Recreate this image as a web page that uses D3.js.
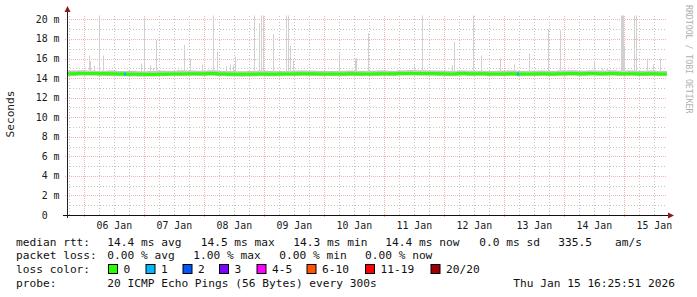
<!DOCTYPE html>
<html>
<head>
<meta charset="utf-8">
<script src="https://cdn.jsdelivr.net/npm/d3@7"></script>
<style>
body { margin: 0; background: #fff; }
text { font-family: "DejaVu Sans Mono", monospace; white-space: pre; }
</style>
</head>
<body>
<svg id="chart"></svg>
<script>
// median rtt (ms), one sample every 4 hours, first sample at 05 Jan 17:00
const medianStartHour = -7;
const medianStepHours = 4;
const medianRtt = [14.45,14.46,14.48,14.47,14.44,14.41,14.40,14.38,14.37,14.40,
                   14.43,14.42,14.45,14.44,14.46,14.43,14.40,14.38,14.39,14.41,
                   14.40,14.42,14.43,14.45,14.44,14.42,14.43,14.41,14.44,14.42,
                   14.43,14.45,14.44,14.46,14.48,14.47,14.46,14.45,14.43,14.46,
                   14.44,14.45,14.42,14.43,14.44,14.41,14.43,14.44,14.42,14.45,
                   14.46,14.44,14.47,14.45,14.46,14.44,14.45,14.43,14.44,14.42]
// smoke band around the median (ms)
const smokeHigh = [14.78,14.80,14.76,14.74,14.78,14.72,14.75,14.70,14.73,14.76,
                   14.74,14.79,14.77,14.75,14.80,14.74,14.72,14.70,14.73,14.76,
                   14.74,14.72,14.75,14.78,14.76,14.74,14.73,14.75,14.77,14.74,
                   14.76,14.78,14.75,14.79,14.82,14.80,14.78,14.77,14.74,14.78,
                   14.76,14.75,14.73,14.76,14.78,14.74,14.75,14.77,14.74,14.78,
                   14.80,14.76,14.79,14.77,14.80,14.76,14.78,14.75,14.77,14.74]
const smokeLow = [14.22,14.25,14.24,14.21,14.20,14.18,14.17,14.15,14.16,14.19,
                  14.22,14.20,14.23,14.21,14.24,14.20,14.17,14.15,14.17,14.19,
                  14.18,14.20,14.22,14.23,14.21,14.20,14.21,14.19,14.22,14.20,
                  14.21,14.23,14.22,14.25,14.26,14.24,14.23,14.22,14.20,14.24,
                  14.22,14.23,14.20,14.21,14.22,14.19,14.21,14.22,14.20,14.23,
                  14.24,14.22,14.25,14.23,14.24,14.22,14.23,14.21,14.22,14.20]

// single-ping outliers: hours after 06 Jan 00:00, and their top (ms)
const spikeHours = [1.9,2.4,3.8,6.0,7.5,22.7,24.0,26.4,27.5,28.8,
                    40.0,42.4,47.1,51.5,53.1,56.8,58.2,59.5,60.4,68.0,
                    70.0,70.7,71.4,75.6,80.7,81.4,82.4,83.6,102.0,108.3,
                    108.7,113.6,132.0,135.2,147.2,148.0,155.6,158.6,166.4,172.0,
                    177.9,185.6,190.3,204.0,207.2,209.0,214.7,215.1,215.5,215.9,
                    219.9,220.6,225.0,227.4,230.3]
const spikeTops = [16.3,15.7,15.3,20.4,16.3,15.5,20.0,15.3,15.0,17.9,
                   17.4,15.9,15.4,20.4,16.7,15.2,15.4,15.3,16.2,20.4,
                   19.6,20.4,20.4,18.5,20.4,20.4,17.3,15.8,16.5,16.0,
                   16.0,18.6,15.3,20.4,15.3,17.7,20.4,16.3,16.0,15.4,
                   16.5,19.0,18.9,15.7,15.0,15.0,20.4,20.4,20.4,17.2,
                   20.4,20.4,16.0,15.4,16.0]

// samples with packet loss
const lossHours = [15.9, 173.0]
const lossCounts = [1, 1]

const lossLabels = ["0", "1", "2", "3", "4-5", "6-10", "11-19", "20/20"]
const lossColors = ["#26ff00", "#00b8ff", "#0059ff", "#7e00ff", "#ff00ff", "#ff5500", "#ff0000", "#a10000"]
const yTickValues = [0, 2, 4, 6, 8, 10, 12, 14, 16, 18, 20]

const legendRtt = ["median rtt:", "14.4 ms avg", "14.5 ms max", "14.3 ms min", "14.4 ms now", "0.0 ms sd", "335.5", "am/s"]
const legendLoss = ["packet loss:", "0.00 % avg", "1.00 % max", "0.00 % min", "0.00 % now"]
const probeText = ["probe:", "20 ICMP Echo Pings (56 Bytes) every 300s", "Thu Jan 15 16:25:51 2026"]

const base = new Date(2026, 0, 6)
function hour(h) { return new Date(base.getTime() + h * 3600e3) }

var margin = {top: 15, left: 67},
    width = 600,
    height = 200;

var svg = d3.select("#chart")
    .attr("width", 697)
    .attr("height", 297)

var x = d3.scaleTime()
    .domain([hour(-6.92), hour(233.08)])
    .range([margin.left, margin.left + width])
var y = d3.scaleLinear()
    .domain([0, 20.45])
    .range([margin.top + height, margin.top])

svg.append("defs").append("clipPath").attr("id", "plot")
    .append("rect")
    .attr("x", margin.left).attr("y", margin.top)
    .attr("width", width).attr("height", height)

// grid
const grid = svg.append("g")
const [t0, t1] = x.domain()
grid.selectAll("minorx")
    .data(d3.timeHour.every(6).range(t0, t1).filter(d => d.getHours() !== 0))
    .enter().append("line")
    .attr("x1", d => Math.round(x(d)) + 0.5).attr("x2", d => Math.round(x(d)) + 0.5)
    .attr("y1", y(0)).attr("y2", margin.top)
    .attr("stroke", "#c4c4c4").attr("stroke-dasharray", "1,2")
grid.selectAll("minory")
    .data(d3.range(1, 21, 2))
    .enter().append("line")
    .attr("x1", margin.left).attr("x2", margin.left + width)
    .attr("y1", d => Math.round(y(d)) + 0.5).attr("y2", d => Math.round(y(d)) + 0.5)
    .attr("stroke", "#c4c4c4").attr("stroke-dasharray", "1,2")
grid.selectAll("majorx")
    .data(d3.timeDay.range(t0, t1))
    .enter().append("line")
    .attr("x1", d => Math.round(x(d)) + 0.5).attr("x2", d => Math.round(x(d)) + 0.5)
    .attr("y1", y(0) + 2).attr("y2", margin.top)
    .attr("stroke", "#f3b2b2").attr("stroke-dasharray", "1,1")
grid.selectAll("majory")
    .data(yTickValues.slice(1))
    .enter().append("line")
    .attr("x1", margin.left - 2).attr("x2", margin.left + width)
    .attr("y1", d => Math.round(y(d)) + 0.5).attr("y2", d => Math.round(y(d)) + 0.5)
    .attr("stroke", "#f3b2b2").attr("stroke-dasharray", "1,1")

const plot = svg.append("g").attr("clip-path", "url(#plot)")

// smoke
const samples = medianRtt.map((v, i) => ({
    t: hour(medianStartHour + i * medianStepHours),
    t2: hour(medianStartHour + (i + 1) * medianStepHours),
    med: v, hi: smokeHigh[i], lo: smokeLow[i]
}))
plot.selectAll("smoke")
    .data(samples)
    .enter().append("rect")
    .attr("x", d => x(d.t))
    .attr("width", d => x(d.t2) - x(d.t))
    .attr("y", d => y(d.hi))
    .attr("height", d => y(d.lo) - y(d.hi))
    .attr("fill", "#c4c4c4")

const barW = x(hour(0.4)) - x(hour(0))
plot.selectAll("spike")
    .data(spikeHours.map((h, i) => ({t: hour(h), top: spikeTops[i]})))
    .enter().append("rect")
    .attr("x", d => Math.round(x(d.t)))
    .attr("width", Math.max(1, Math.round(barW)))
    .attr("y", d => y(d.top))
    .attr("height", d => y(14.6) - y(d.top))
    .attr("fill", "#d0d0d0")

// median line
const pts = samples.map(d => [d.t, d.med])
pts.push([samples[samples.length - 1].t2, medianRtt[medianRtt.length - 1]])
plot.append("path")
    .datum(pts)
    .attr("fill", "none")
    .attr("stroke", lossColors[0])
    .attr("stroke-width", 3)
    .attr("d", d3.line().x(d => x(d[0])).y(d => y(d[1])).curve(d3.curveStepAfter))

function lossIndex(n) {
    if (n <= 3) return n
    if (n <= 5) return 4
    if (n <= 10) return 5
    if (n <= 19) return 6
    return 7
}
plot.selectAll("loss")
    .data(lossHours.map((h, i) => ({t: hour(h), n: lossCounts[i],
        med: medianRtt[Math.floor((h - medianStartHour) / medianStepHours)]})))
    .enter().append("rect")
    .attr("x", d => Math.round(x(d.t)))
    .attr("width", 2)
    .attr("y", d => y(d.med) - 1.5)
    .attr("height", 3)
    .attr("fill", d => lossColors[lossIndex(d.n)])

// axes
svg.append("line")
    .attr("x1", margin.left + 0.5).attr("x2", margin.left + 0.5)
    .attr("y1", y(0) + 3).attr("y2", margin.top - 5)
    .attr("stroke", "#222")
svg.append("line")
    .attr("x1", margin.left - 4).attr("x2", margin.left + width + 3)
    .attr("y1", y(0) + 0.5).attr("y2", y(0) + 0.5)
    .attr("stroke", "#111")
svg.append("path")
    .attr("d", `M${margin.left - 2.5},${margin.top - 3} L${margin.left + 0.5},${margin.top - 9} L${margin.left + 3.5},${margin.top - 3} Z`)
    .attr("fill", "#8b1a1a")
svg.append("path")
    .attr("d", `M${margin.left + width + 1},${y(0) - 2.5} L${margin.left + width + 7},${y(0) + 0.5} L${margin.left + width + 1},${y(0) + 3.5} Z`)
    .attr("fill", "#8b1a1a")

// tick labels
svg.selectAll("ylab")
    .data(yTickValues)
    .enter().append("text")
    .attr("x", 59.5)
    .attr("y", d => y(d) + 3.5)
    .attr("text-anchor", "end")
    .attr("font-size", "9.9px")
    .attr("fill", "#1a1a1a")
    .text(d => d === 0 ? "0  " : d + " m")

svg.selectAll("xlab")
    .data(d3.timeDay.range(d3.timeDay.ceil(t0), t1).map(d => d3.timeHour.offset(d, 12)).filter(d => d < t1))
    .enter().append("text")
    .attr("x", d => x(d))
    .attr("y", 228.5)
    .attr("text-anchor", "middle")
    .attr("font-size", "9.9px")
    .attr("fill", "#1a1a1a")
    .text(d3.timeFormat("%d %b"))

svg.append("text")
    .attr("transform", "translate(14,114) rotate(-90)")
    .attr("text-anchor", "middle")
    .attr("font-size", "11.2px")
    .attr("fill", "#1a1a1a")
    .text("Seconds")

svg.append("text")
    .attr("transform", "translate(686,5) rotate(90)")
    .attr("font-size", "8.2px")
    .attr("fill", "#b0b0b0")
    .text("RRDTOOL / TOBI OETIKER")

// legend
const legend = svg.append("g").attr("font-size", "11.2px").attr("fill", "#111")
function row(items, xs, yPos) {
    items.forEach((s, i) => legend.append("text").attr("x", xs[i]).attr("y", yPos).text(s))
}
row(legendRtt, [16, 107.3, 200.7, 293.3, 385.3, 479.3, 558.3, 615], 245.5)
row(legendLoss, [16, 107.3, 193.3, 279.3, 365], 259)
row(["loss color:"], [16], 273)
const boxX = [108.5, 146, 183, 219.5, 257, 307, 365.5, 431]
lossLabels.forEach((l, i) => {
    legend.append("rect")
        .attr("x", boxX[i]).attr("y", 264.5)
        .attr("width", 9).attr("height", 9)
        .attr("fill", lossColors[i]).attr("stroke", "#000")
    legend.append("text").attr("x", boxX[i] + 15).attr("y", 273).text(l)
})
row(probeText, [16, 107.3, 513.3], 286.5)
</script>
</body>
</html>
